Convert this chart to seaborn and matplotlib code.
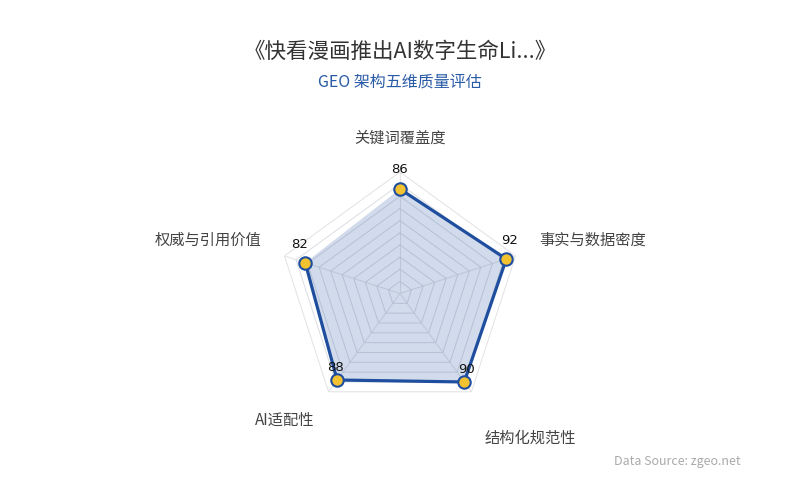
import numpy as np
import matplotlib
matplotlib.use('Agg')
import matplotlib.pyplot as plt
import seaborn as sns

# 数据
categories = ['关键词覆盖度', '事实与数据密度', '结构化规范性', 'AI适配性', '权威与引用价值']
scores = [86, 92, 90, 88, 82]
ring_levels = [10, 20, 30, 40, 50, 60, 70, 80, 90, 100]

title = '《快看漫画推出AI数字生命Li...》'
subtitle = 'GEO 架构五维质量评估'
source = 'Data Source: zgeo.net'

sns.set_theme(style='white')
plt.rcParams['font.family'] = ['Noto Sans CJK SC', 'DejaVu Sans']

line_color = '#1f4e9f'
marker_color = '#f2c230'

n = len(categories)
angles = np.linspace(0, 2 * np.pi, n, endpoint=False)
theta_closed = np.append(angles, angles[0])
scores_closed = np.append(scores, scores[0])

fig = plt.figure(figsize=(8, 5), dpi=100)
ax = fig.add_axes([0.3481, 0.17, 0.30375, 0.486], projection='polar')
ax.set_theta_zero_location('N')
ax.set_theta_direction(-1)
ax.set_ylim(0, 100)

# 网格：五边形
ax.set_yticks([])
ax.yaxis.grid(False)
ax.set_xticks(angles)
ax.set_xticklabels([])
ax.xaxis.grid(True, color='#e6e6e6', linewidth=0.8)
ax.spines['polar'].set_visible(False)
ax.set_facecolor('white')
for lv in ring_levels:
    ax.plot(theta_closed, [lv] * (n + 1), color='#e2e2e2' if lv == 100 else '#dadde3',
            linewidth=0.7, zorder=1)

# 数据区域
ax.fill(theta_closed, scores_closed, color=line_color, alpha=0.2, zorder=2, linewidth=0)
sns.lineplot(x=theta_closed, y=scores_closed, sort=False, ax=ax, color=line_color,
             linewidth=2.3, zorder=3)
sns.scatterplot(x=angles, y=scores, ax=ax, color=marker_color, edgecolor=line_color,
                linewidth=1.5, s=80, zorder=4)
ax.set_xlabel('')
ax.set_ylabel('')

# 数值标签
offsets = [(0, 13), (3, 12), (2, 6), (-2, 6), (-6, 12)]
for a, v, off in zip(angles, scores, offsets):
    ax.annotate(str(v), (a, v), xytext=off, textcoords='offset pixels',
                ha='center', va='bottom', fontsize=9.5, color='#111111', zorder=5,
                family=['DejaVu Sans'])

# 维度名称
label_pos = [
    (0.0, 128, 'center', 'center'),
    (np.deg2rad(69), 123, 'left', 'center'),
    (np.deg2rad(138), 160, 'center', 'center'),
    (np.deg2rad(222.5), 141, 'center', 'center'),
    (np.deg2rad(291.2), 122, 'right', 'center'),
]
for name, (t, r, ha, va) in zip(categories, label_pos):
    ax.text(t, r, name, ha=ha, va=va, fontsize=11, color='#444444', clip_on=False)

fig.text(0.5, 0.896, title, ha='center', va='center', fontsize=15.5, color='#333333')
fig.text(0.5, 0.836, subtitle, ha='center', va='center', fontsize=11.5, color='#2a5ba6')
fig.text(0.926, 0.076, source, ha='right', va='center', fontsize=9, color='#aaaaaa')

fig.savefig('out.png', dpi=100, facecolor='white')
